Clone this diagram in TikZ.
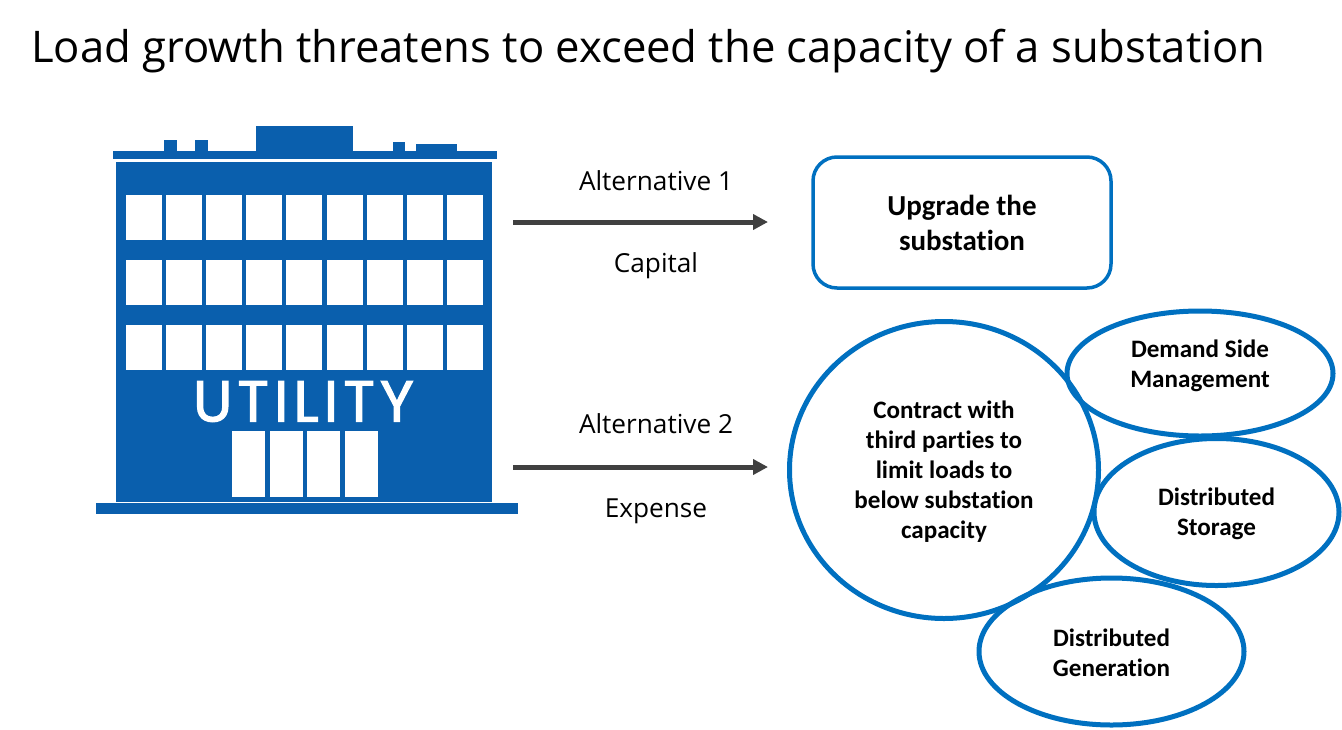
\documentclass[tikz,border=0pt]{standalone}
\usepackage{fontspec}
\usepackage{xcolor}
\setmainfont{Open Sans}
\newfontfamily\boxfont[Ligatures=NoCommon]{Carlito}
\newfontfamily\signfont[LetterSpace=9,FakeBold=2]{Poppins}
\usetikzlibrary{arrows.meta,shapes.geometric}
\definecolor{utilblue}{HTML}{0A5FAD}
\definecolor{edgeblue}{HTML}{0070C0}
\definecolor{arrowgray}{HTML}{404040}
\tikzset{%
	optionbox/.style = {draw=edgeblue, line width=3.5pt, rectangle, rounded corners=24pt, minimum width=298pt, minimum height=131pt, align=center, font=\boxfont\bfseries\fontsize{29}{35}\selectfont},
	option/.style    = {draw=edgeblue, line width=5pt, ellipse, inner sep=0pt, align=center, font=\boxfont\bfseries\fontsize{25.1}{30}\selectfont},
	arrow/.style     = {line width=5pt, draw=arrowgray, -{Triangle[length=15pt,width=15pt]}},
	arrowlabel/.style= {anchor=base, font=\fontsize{26.2}{30}\selectfont},
	solid blue/.style= {fill=utilblue, draw=none},
	glass/.style     = {fill=white, draw=none},
}
\begin{document}
\begin{tikzpicture}[x=1pt,y=-1pt]
	\useasboundingbox (0,0) rectangle (1342,729);
	\node[anchor=base west, inner sep=0pt] (title) at (31,62) {\fontsize{43.6}{48}\selectfont Load growth threatens to exceed the capacity of a substation};
	% building
	\fill[solid blue] (116,162) rectangle (492,502);
	\fill[solid blue] (113,151) rectangle (497,159);
	\fill[solid blue] (256,126) rectangle (353,151);
	\fill[solid blue] (164,140) rectangle (177,151);
	\fill[solid blue] (195,140) rectangle (208,151);
	\fill[solid blue] (393,142) rectangle (405,151);
	\fill[solid blue] (416,144) rectangle (457,151);
	\fill[solid blue] (96,503) rectangle (518,514);
	\foreach \row in {195,260,325}
		\foreach \col in {0,...,8}
			\fill[glass] ({126+40.1*\col},\row) rectangle ({162+40.1*\col},\row+45);
	\foreach \door in {232,269.5,307,344.5}
		\fill[glass] (\door,431) rectangle (\door+33,497);
	\node[text=white, anchor=base] (sign) at (303.5,421.5) {\signfont\fontsize{58}{60}\selectfont UTILITY};
	% alternatives
	\coordinate (start1) at (513,222);
	\coordinate (end1) at (768,222);
	\coordinate (start2) at (513,467);
	\coordinate (end2) at (768,467);
	\draw[arrow] (start1) -- (end1);
	\draw[arrow] (start2) -- (end2);
	\node[arrowlabel] (alt1) at (656,190) {Alternative 1};
	\node[arrowlabel] (capital) at (656,272) {Capital};
	\node[arrowlabel] (alt2) at (656,433) {Alternative 2};
	\node[arrowlabel] (expense) at (656,517) {Expense};
	% outcomes
	\node[optionbox] (upgrade) at (962,222.5) {Upgrade the\\substation};
	\node[option, minimum width=309pt, minimum height=297pt] (contract) at (944,470) {Contract with\\third parties to\\limit loads to\\below substation\\capacity\\[-38pt]\strut};
	\node[option, minimum width=266pt, minimum height=125pt] (demand) at (1200,373.5) {Demand Side\\Management\\[-20pt]\strut};
	\node[option, minimum width=245pt, minimum height=147pt] (storage) at (1216.5,512) {Distributed\\Storage\\[-38pt]\strut};
	\node[option, minimum width=265pt, minimum height=147pt] (generation) at (1111.5,651.5) {Distributed\\Generation\\[-42pt]\strut};
\end{tikzpicture}
\end{document}
